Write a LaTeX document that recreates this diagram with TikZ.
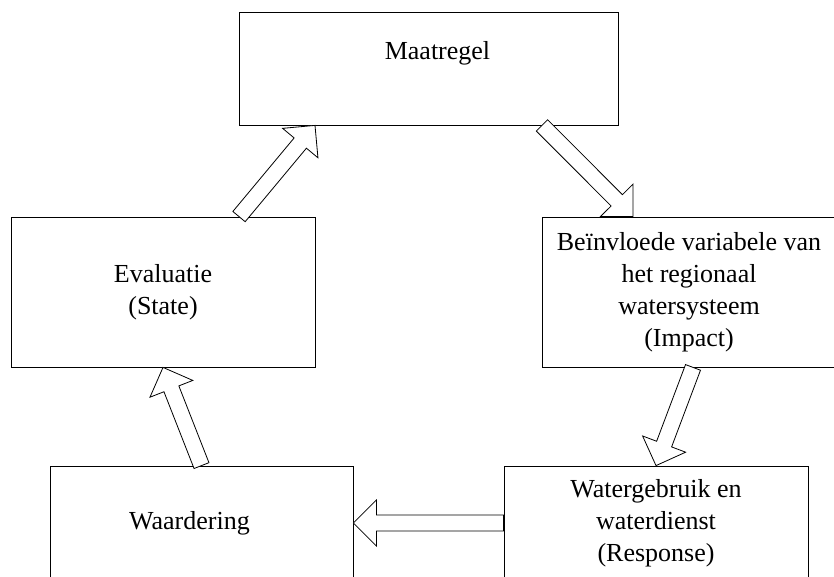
\documentclass[tikz,border=0pt]{standalone}
\usepackage{fontspec}
\setmainfont{Liberation Serif}
\usetikzlibrary{positioning,calc}
\tikzset{box/.style={draw,line width=0.8pt,align=center}}
\tikzset{hollow/.style={draw,fill=white,line width=0.8pt,line join=miter}}
% hollow block arrow from #1 to #2
\newcommand\blockarrow[2]{%
  \coordinate (head) at ($(#2)!23pt!(#1)$);
  \draw[hollow] ($(#1)!8pt!90:(#2)$) -- ($(head)!8pt!90:(#2)$) -- ($(head)!23pt!90:(#2)$)
    -- (#2) -- ($(head)!23pt!-90:(#2)$) -- ($(head)!8pt!-90:(#2)$) -- ($(#1)!8pt!-90:(#2)$) -- cycle;}

\begin{document}
\begin{tikzpicture}[x=1pt,y=1pt,on grid,font=\fontsize{26}{32}\selectfont]
        \useasboundingbox (0,0) rectangle (834,-577);
        \node(eval)[box,minimum width=304pt,minimum height=150pt] at (163,-292) {Evaluatie\\(State)};
        \node(maat)[box,minimum width=379pt,minimum height=113pt,text height=17pt,text depth=34pt,
          above right=223.5pt and 265.5pt of eval] {\hspace*{18pt}Maatregel};
        \node(bein)[box,minimum width=294pt,minimum height=150pt,right=526pt of eval]
          {Beïnvloede variabele van\\het regionaal\\watersysteem\\(Impact)};
        \node(waard)[box,minimum width=303pt,minimum height=114pt,below right=231pt and 38.5pt of eval]
          {Waardering\hspace*{24pt}};
        \node(water)[box,minimum width=304pt,minimum height=114pt,right=454.5pt of waard]
          {Watergebruik en\\waterdienst\\(Response)};
        % arrow ends on the box edges
        \coordinate (evalTop) at ([xshift=76pt]eval.north);
        \coordinate (maatIn) at ([xshift=-113.5pt]maat.south);
        \coordinate (maatOut) at ([xshift=113.5pt]maat.south);
        \coordinate (beinIn) at ([xshift=-56pt]bein.north);
        \coordinate (beinOut) at ([xshift=4pt]bein.south);
        \blockarrow{evalTop}{maatIn}
        \blockarrow{maatOut}{beinIn}
        \blockarrow{beinOut}{water.north}
        \blockarrow{water.west}{waard.east}
        \blockarrow{waard.north}{eval.south}
\end{tikzpicture}
\end{document}
